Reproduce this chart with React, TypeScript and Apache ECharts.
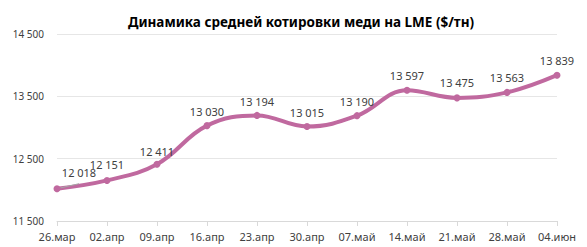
import React, { useEffect, useRef } from "react";
import * as echarts from "echarts";

const categories = ["26.мар", "02.апр", "09.апр", "16.апр", "23.апр", "30.апр", "07.май", "14.май", "21.май", "28.май", "04.июн"];
const prices = [12018, 12151, 12411, 13030, 13194, 13015, 13190, 13597, 13475, 13563, 13839];
const yMin = 11500;
const yMax = 14500;
const yStep = 1000;
const titleText = "Динамика средней котировки меди на LME ($/тн)";

const fmt = (v: number) => String(v).replace(/\B(?=(\d{3})+(?!\d))/g, " ");

const FONT = "'Noto Sans', 'Open Sans', sans-serif";
const LINE = "#C0699F";

export default function App() {
  const ref = useRef<HTMLDivElement>(null);
  useEffect(() => {
    if (!ref.current) return;
    const chart = echarts.init(ref.current, undefined, { renderer: "svg" });
    const labelOffsets: Record<number, [number, number]> = {
      0: [22, -1],
      1: [0, -1],
      2: [0, 2],
      3: [0, 1],
      4: [0, 1],
      5: [0, 1],
      6: [0, 1],
    };
    chart.setOption({
      animation: false,
      backgroundColor: "#ffffff",
      title: {
        text: titleText,
        left: 296,
        textAlign: "center",
        top: 10,
        textStyle: { fontFamily: FONT, fontSize: 13.5, fontWeight: "bold", color: "#000000" },
      },
      grid: { left: 57, right: 30, top: 34, bottom: 26, containLabel: false },
      xAxis: {
        type: "category",
        data: categories,
        boundaryGap: false,
        axisLine: { lineStyle: { color: "#d9d9d9" } },
        axisTick: { show: true, lineStyle: { color: "#d9d9d9" }, length: 5 },
        axisLabel: { fontFamily: FONT, fontSize: 11, color: "#404040", margin: 10, interval: 0 },
      },
      yAxis: {
        type: "value",
        min: yMin,
        max: yMax,
        interval: yStep,
        axisLine: { show: false },
        axisTick: { show: false },
        splitLine: { lineStyle: { color: "#e6e6e6" } },
        axisLabel: { fontFamily: FONT, fontSize: 10, color: "#404040", margin: 13, formatter: (v: number) => fmt(v) },
      },
      series: [
        {
          type: "line",
          smooth: 0.4,
          data: prices.map((v, i) => {
            const item: any = { value: v };
            if (labelOffsets[i]) item.label = { offset: labelOffsets[i] };
            if (i === 0) item.labelLine = { show: true, lineStyle: { color: "#a6a6a6", width: 1 } };
            return item;
          }),
          symbol: "circle",
          symbolSize: 7,
          lineStyle: { color: LINE, width: 4 },
          itemStyle: { color: LINE },
          label: {
            show: true,
            position: "top",
            distance: 6,
            fontFamily: FONT,
            fontSize: 11,
            color: "#404040",
            formatter: (p: any) => fmt(p.value),
          },
        },
      ],
    });
    return () => chart.dispose();
  }, []);
  return <div ref={ref} style={{ position: "fixed", left: 0, top: 0, width: 587, height: 247 }} />;
}
